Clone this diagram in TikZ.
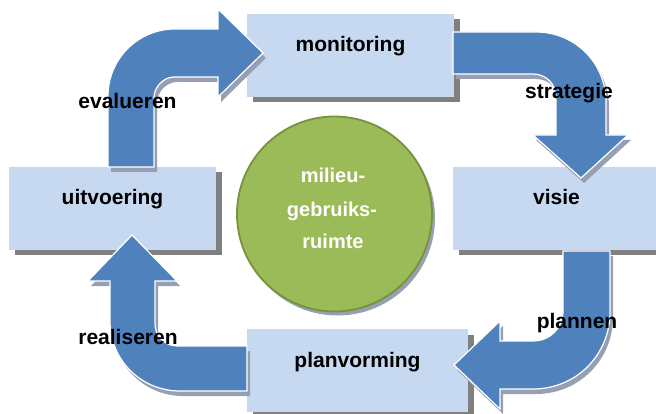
\documentclass[tikz,border=0pt]{standalone}
\usepackage{fontspec}
\setmainfont{Liberation Sans}
\usetikzlibrary{shadows}
\definecolor{boxfill}{RGB}{198,217,241}
\definecolor{arrowblue}{RGB}{79,129,189}
\definecolor{circfill}{RGB}{155,187,89}
\definecolor{circline}{RGB}{118,146,60}
\definecolor{boxshadow}{RGB}{128,128,128}
\definecolor{hatch}{RGB}{150,160,178}
\def\pathEval{(108,167) -- (108,96) .. controls (108,59) and (138,29) .. (175,29) -- (218,29) -- (218,9) -- (263,53) -- (218,97) -- (218,77) -- (174,77) .. controls (163,77) and (154,88) .. (154,97) -- (154,167) -- cycle}
\def\pathStrat{(453,32) -- (536,32) .. controls (575,32) and (606,63) .. (606,102) -- (606,135) -- (628,135) -- (581,178) -- (533,135) -- (556,135) -- (556,97) .. controls (556,84) and (546,74) .. (533,74) -- (453,74) -- cycle}
\def\pathPlan{(563,251) -- (610,251) -- (610,312) .. controls (610,355) and (576,389) .. (533,389) -- (500,389) -- (500,409) -- (454,365) -- (500,321) -- (500,341) -- (533,341) .. controls (550,341) and (563,328) .. (563,311) -- cycle}
\def\pathReal{(247,346) -- (177,346) .. controls (165,346) and (155,336) .. (155,324) -- (155,281) -- (177,281) -- (132,235) -- (88,281) -- (110,281) -- (110,321) .. controls (110,360) and (141,391) .. (180,391) -- (247,391) -- cycle}
\begin{document}
\begin{tikzpicture}[x=1pt,y=-1pt,
  box/.style={rectangle, fill=boxfill, inner sep=0pt, minimum height=83pt,
    text height=15pt, text depth=22pt, font=\fontsize{21}{25}\selectfont\bfseries,
    drop shadow={shadow xshift=5.5pt, shadow yshift=-5.5pt, fill=boxshadow, opacity=1}},
  blockarrow/.style={fill=arrowblue, draw=white, line width=1.2pt, line join=miter},
  arrowshade/.style={fill=hatch},
  lbl/.style={anchor=base, inner sep=0pt, font=\fontsize{21}{25}\selectfont\bfseries},
  ctext/.style={anchor=base, inner sep=0pt, text=white, font=\fontsize{20}{24}\selectfont\bfseries}]
\useasboundingbox (0,0) rectangle (656,414);
\clip (0,0) rectangle (656,414);
% boxes
\node[box, minimum width=207pt] (monitoring) at (350.5,55.5) {monitoring};
\node[box, minimum width=207pt] (uitvoering) at (112.5,208.5) {uitvoering};
\node[box, minimum width=207pt] (visie) at (556.5,208.5) {visie};
\node[box, minimum width=221pt] (planvorming) at (357.5,370.5) {planvorming};
% block arrows
\fill[arrowshade, shift={(3,5)}] \pathEval;
\path[blockarrow] \pathEval;
\fill[arrowshade, shift={(3,5)}] \pathStrat;
\path[blockarrow] \pathStrat;
\fill[arrowshade, shift={(3,5)}] \pathPlan;
\path[blockarrow] \pathPlan;
\fill[arrowshade, shift={(3,5)}] \pathReal;
\path[blockarrow] \pathReal;
% centre circle
\fill[hatch] (337.5,218) circle[radius=97.5pt];
\node[circle, fill=circfill, draw=circline, line width=1.8pt, minimum size=195pt, inner sep=0pt] (ruimte) at (334.5,214) {};
\node[ctext] (c1) at (333,183) {milieu-};
\node[ctext] (c2) at (332,217) {gebruiks-};
\node[ctext] (c3) at (333,249) {ruimte};
% arrow labels
\node[lbl] (evalueren) at (127.5,109) {evalueren};
\node[lbl] (strategie) at (569,99) {strategie};
\node[lbl] (plannen) at (577,328) {plannen};
\node[lbl] (realiseren) at (128,344) {realiseren};
\end{tikzpicture}
\end{document}
